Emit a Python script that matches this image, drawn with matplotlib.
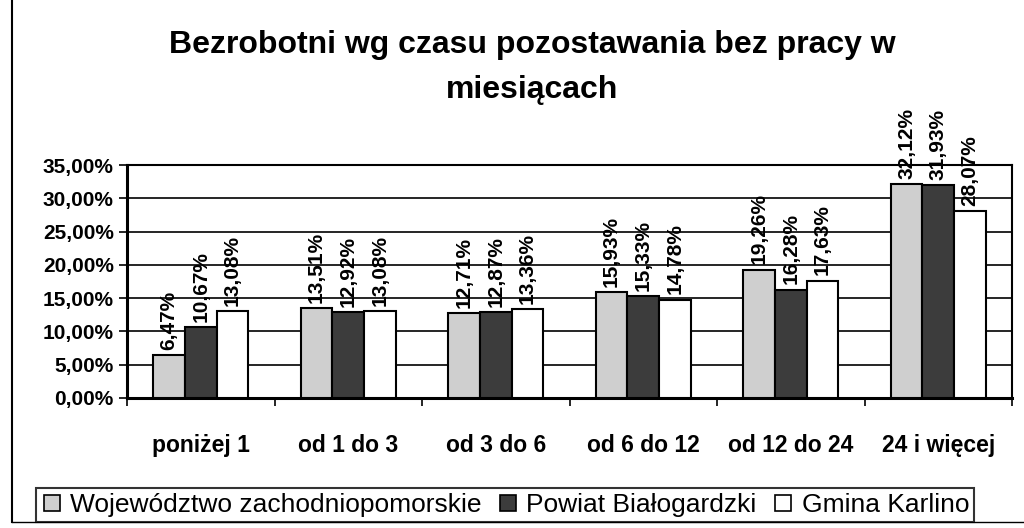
import numpy as np
import matplotlib.pyplot as plt
from matplotlib.lines import Line2D

categories = ["poniżej 1", "od 1 do 3", "od 3 do 6", "od 6 do 12", "od 12 do 24", "24 i więcej"]
series_names = ["Województwo zachodniopomorskie", "Powiat Białogardzki", "Gmina Karlino"]
woj = [6.47, 13.51, 12.71, 15.93, 19.26, 32.12]
powiat = [10.67, 12.92, 12.87, 15.33, 16.28, 31.93]
gmina = [13.08, 13.08, 13.36, 14.78, 17.63, 28.07]
yticks = [0, 5, 10, 15, 20, 25, 30, 35]

colors = ["#cfcfcf", "#3c3c3c", "#ffffff"]

plt.rcParams["font.family"] = ["Liberation Sans", "DejaVu Sans"]

fig = plt.figure(figsize=(10.24, 5.28), dpi=100)
ax = fig.add_axes([127 / 1024, 1 - 398 / 528, 885 / 1024, 233 / 528])

x = np.arange(len(categories))
w = 0.215
for k, (vals, c) in enumerate(zip([woj, powiat, gmina], colors)):
    pos = x + (k - 1) * w
    ax.bar(pos, vals, width=w, color=c, edgecolor="black", linewidth=1.5, zorder=3,
           label=series_names[k])
    for px, v in zip(pos, vals):
        ax.text(px, v + 0.8, ("%.2f%%" % v).replace(".", ","), rotation=90,
                ha="center", va="bottom", fontsize=15, fontweight="bold", zorder=4)

ax.set_xlim(-0.5, len(categories) - 0.5)
ax.set_ylim(0, 35)
ax.set_yticks(yticks)
ax.set_yticklabels([("%.2f%%" % t).replace(".", ",") for t in yticks],
                   fontsize=15, fontweight="bold")
ax.set_xticks(x)
ax.set_xticklabels(categories, fontsize=16.5, fontweight="bold")
ax.tick_params(axis="x", length=0, pad=26)
ax.tick_params(axis="y", length=6, width=1.2, direction="out")
ax.set_xticks(np.arange(len(categories) + 1) - 0.5, minor=True)
ax.tick_params(axis="x", which="minor", length=6, width=1.2, direction="out")
ax.yaxis.grid(True, color="black", linewidth=1.2, zorder=0)
for s in ax.spines.values():
    s.set_linewidth(1.5)
ax.spines["left"].set_linewidth(2.2)
ax.spines["bottom"].set_linewidth(2.2)

fig.text(0.520, 1 - 45 / 528, "Bezrobotni wg czasu pozostawania bez pracy w",
         ha="center", va="center", fontsize=23, fontweight="bold")
fig.text(0.520, 1 - 90 / 528, "miesiącach",
         ha="center", va="center", fontsize=23, fontweight="bold")

handles = [Line2D([], [], marker="s", linestyle="none", markersize=11,
                  markerfacecolor=c, markeredgecolor="black", markeredgewidth=1.2)
           for c in colors]
leg = fig.legend(handles, series_names, loc="center", bbox_to_anchor=(505 / 1024, 1 - 505 / 528),
                 ncol=3, frameon=True, fancybox=False, edgecolor="black",
                 prop={"size": 19},
                 handlelength=0.8, handletextpad=0.3, columnspacing=0.6,
                 borderpad=0.2)
leg.get_frame().set_linewidth(1.5)

fig.add_artist(Line2D([12 / 1024, 12 / 1024], [1 - 522 / 528, 1], color="black", linewidth=1.5))
fig.add_artist(Line2D([12 / 1024, 1], [1 - 522 / 528, 1 - 522 / 528], color="black", linewidth=1.0))

fig.savefig("out.png", dpi=100)
